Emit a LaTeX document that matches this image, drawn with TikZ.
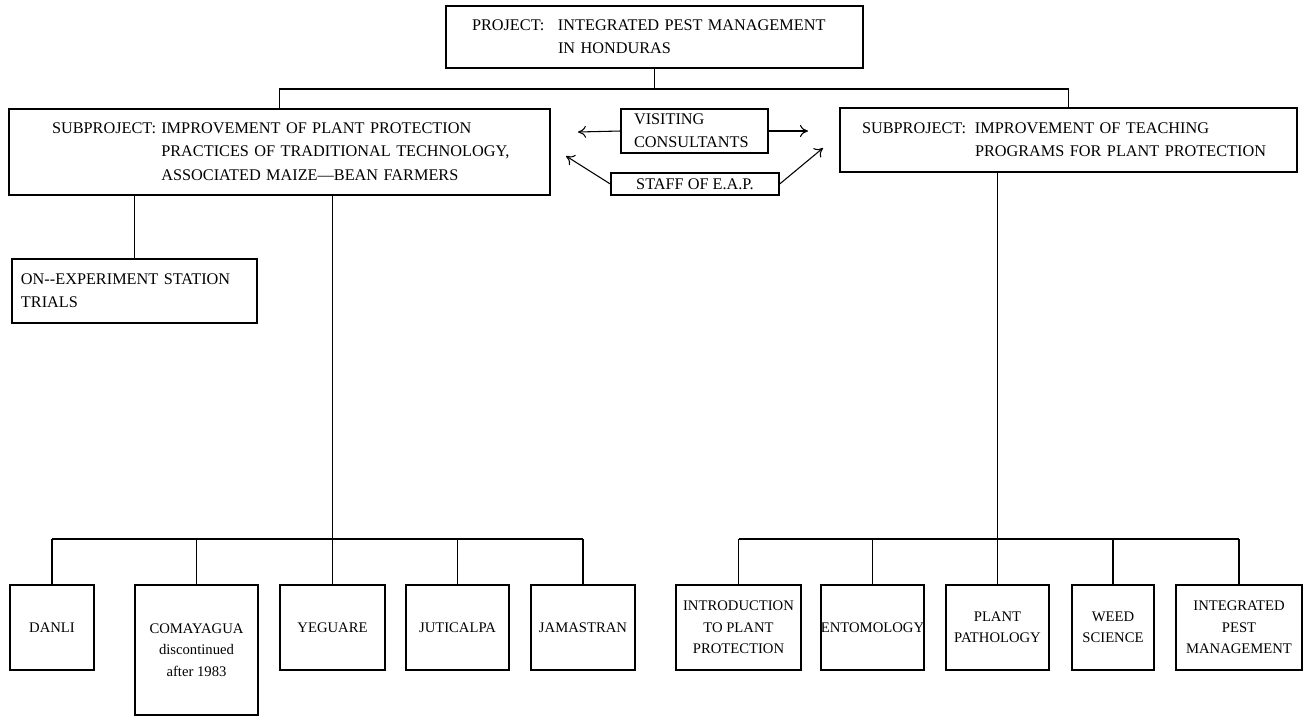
\documentclass[tikz,border=0pt]{standalone}
\usepackage{fontspec}
\setmainfont{Liberation Serif}
\usetikzlibrary{arrows.meta}

\tikzset{
  box/.style={draw, line width=1pt, inner sep=0pt, font=\fontsize{12.2}{17.5}\selectfont},
  lbox/.style={box, align=left},
  cbox/.style={draw, line width=1pt, inner sep=0pt, align=center, minimum height=63.75pt, font=\fontsize{11}{16}\selectfont},
  lnk/.style={line width=0.8pt},
  arr/.style={line width=0.8pt, -{To[length=6pt,width=9pt]}}
}

\begin{document}
\begin{tikzpicture}[x=0.75pt,y=0.75pt,yscale=-1,xscale=1]
\useasboundingbox (0,0) rectangle (1304,719);

% upper level
\node[lbox, minimum width=312.75pt, minimum height=46.5pt, text width=273.75pt, inner xsep=19.5pt] (proj) at (654.5,37)
  {\begin{tabular}{@{}p{64.5pt}@{}l@{}}PROJECT: & INTEGRATED PEST MANAGEMENT\\ & IN HONDURAS\end{tabular}};
\node[lbox, minimum width=405.75pt, minimum height=64.5pt, text width=341.25pt, inner xsep=32.25pt] (lsub) at (279.5,152)
  {\begin{tabular}{@{}p{82pt}@{}l@{}}SUBPROJECT: & IMPROVEMENT OF PLANT PROTECTION\\ & PRACTICES OF TRADITIONAL TECHNOLOGY,\\ & ASSOCIATED MAIZE---BEAN FARMERS\end{tabular}};
\node[lbox, minimum width=342.75pt, minimum height=48pt, text width=309.75pt, inner xsep=16.5pt] (rsub) at (1068.5,140)
  {\begin{tabular}{@{}p{84.75pt}@{}l@{}}SUBPROJECT: & IMPROVEMENT OF TEACHING\\ & PROGRAMS FOR PLANT PROTECTION\end{tabular}};
\node[lbox, minimum width=110.25pt, minimum height=33pt, text width=90.75pt, inner xsep=9.75pt] (visit) at (694.5,131)
  {VISITING\\CONSULTANTS};
\node[box, minimum width=126pt, minimum height=16.5pt] (staff) at (695,184) {STAFF OF E.A.P.};
\node[lbox, minimum width=183.75pt, minimum height=48pt, text width=170.25pt, inner xsep=6.75pt] (onexp) at (134.5,291)
  {ON-{}-EXPERIMENT STATION\\TRIALS};

% field sites
\node[cbox, minimum width=63pt] (danli) at (52,627.5) {DANLI};
\node[cbox, minimum width=92.25pt, minimum height=97.5pt] (comay) at (196.5,650) {COMAYAGUA\\discontinued\\after 1983};
\node[cbox, minimum width=78.75pt] (yeg) at (332.5,627.5) {YEGUARE};
\node[cbox, minimum width=77.25pt] (jut) at (457.5,627.5) {JUTICALPA};
\node[cbox, minimum width=78pt] (jam) at (583,627.5) {JAMASTRAN};

% courses
\node[cbox, minimum width=93.75pt] (intro) at (738.5,627.5) {INTRODUCTION\\TO PLANT\\PROTECTION};
\node[cbox, minimum width=77.25pt] (ento) at (872.5,627.5) {ENTOMOLOGY};
\node[cbox, minimum width=77.25pt] (path) at (997.5,627.5) {PLANT\\PATHOLOGY};
\node[cbox, minimum width=61.5pt] (weed) at (1113,627.5) {WEED\\SCIENCE};
\node[cbox, minimum width=94.5pt] (ipm) at (1239,627.5) {INTEGRATED\\PEST\\MANAGEMENT};

% connectors
\coordinate (pbus) at (654,89);
\coordinate (lbus) at (0,539);
\draw[lnk] (proj.south) -- (proj.south |- pbus);
\draw[lnk] (lsub.north) -- (lsub.north |- pbus) -- (rsub.north |- pbus) -- (rsub.north);
\draw[lnk] (onexp.north |- lsub.south) -- (onexp.north);
\draw[lnk] (yeg.north |- lsub.south) -- (yeg.north);
\draw[lnk] (path.north |- rsub.south) -- (path.north);
\draw[lnk] (danli.north |- lbus) -- (jam.north |- lbus);
\draw[lnk] (intro.north |- lbus) -- (ipm.north |- lbus);
\foreach \n in {danli,comay,jut,jam,intro,ento,weed,ipm}
  \draw[lnk] (\n.north |- lbus) -- (\n.north);

% advisers
\coordinate (visL) at (578,132);
\coordinate (visR) at (808,131);
\coordinate (stfL) at (566,156);
\coordinate (stfR) at (823,148);
\draw[arr] (visit.west) -- (visL);
\draw[arr] (visit.east) -- (visR);
\draw[arr] (staff.west) -- (stfL);
\draw[arr] (staff.east) -- (stfR);
\end{tikzpicture}
\end{document}
